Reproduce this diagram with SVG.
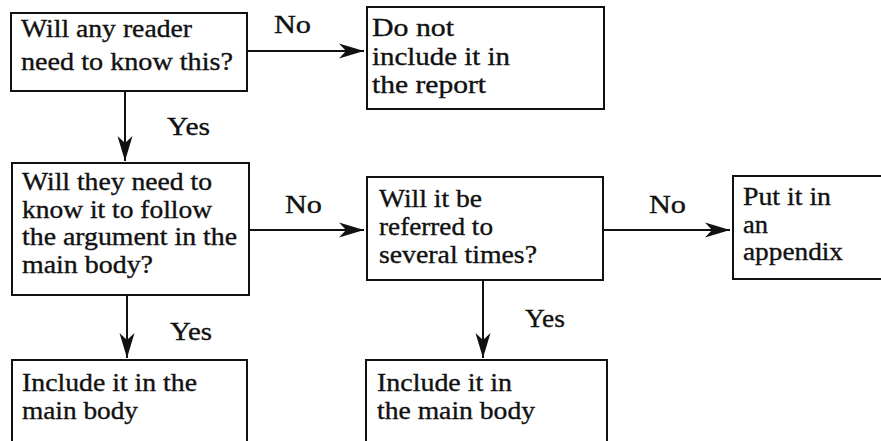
<svg xmlns="http://www.w3.org/2000/svg" width="881" height="441" viewBox="0 0 881 441">
<style>
.box{fill:#fff;stroke:#111;stroke-width:2}
text{font-family:'Liberation Serif','Times New Roman',Times,serif;font-size:25px;fill:#111;stroke:#111;stroke-width:0.35}
.c{stroke:#111;stroke-width:2;fill:none;marker-end:url(#ah)}
</style>
<defs>
<marker id="ah" markerUnits="userSpaceOnUse" viewBox="-27 -9 29 18" refX="0" refY="0" markerWidth="29" markerHeight="18" orient="auto">
<path d="M0,0 L-25,-7.5 L-18,0 L-25,7.5 Z" fill="#111"/>
</marker>
</defs>
<rect width="881" height="441" fill="#fff"/>
<g id="connectors">
<line class="c" x1="247" y1="51" x2="364" y2="51"/>
<line class="c" x1="125" y1="91" x2="125" y2="161"/>
<line class="c" x1="249" y1="230" x2="364" y2="230"/>
<line class="c" x1="603" y1="230" x2="730" y2="230"/>
<line class="c" x1="127" y1="295" x2="127" y2="358"/>
<line class="c" x1="483" y1="280" x2="483" y2="358"/>
<text x="274" y="33" textLength="37" lengthAdjust="spacingAndGlyphs">No</text>
<text x="167" y="135" textLength="43" lengthAdjust="spacingAndGlyphs">Yes</text>
<text x="285" y="213" textLength="37" lengthAdjust="spacingAndGlyphs">No</text>
<text x="649" y="213" textLength="37" lengthAdjust="spacingAndGlyphs">No</text>
<text x="170" y="340" textLength="42" lengthAdjust="spacingAndGlyphs">Yes</text>
<text x="525" y="327" textLength="40" lengthAdjust="spacingAndGlyphs">Yes</text>
</g>
<g id="q1">
<rect class="box" x="11" y="13" width="236" height="78"/>
<text x="21" y="37" textLength="171" lengthAdjust="spacingAndGlyphs">Will any reader</text>
<text x="21" y="70" textLength="212" lengthAdjust="spacingAndGlyphs">need to know this?</text>
</g>
<g id="exclude">
<rect class="box" x="367" y="7" width="237" height="102"/>
<text x="372" y="36" textLength="82" lengthAdjust="spacingAndGlyphs">Do not</text>
<text x="372" y="65" textLength="138" lengthAdjust="spacingAndGlyphs">include it in</text>
<text x="372" y="93" textLength="114" lengthAdjust="spacingAndGlyphs">the report</text>
</g>
<g id="q2">
<rect class="box" x="12" y="163" width="237" height="132"/>
<text x="22" y="190" textLength="190" lengthAdjust="spacingAndGlyphs">Will they need to</text>
<text x="22" y="218" textLength="190" lengthAdjust="spacingAndGlyphs">know it to follow</text>
<text x="22" y="245" textLength="215" lengthAdjust="spacingAndGlyphs">the argument in the</text>
<text x="22" y="273" textLength="131" lengthAdjust="spacingAndGlyphs">main body?</text>
</g>
<g id="q3">
<rect class="box" x="367" y="177" width="236" height="103"/>
<text x="379" y="207" textLength="103" lengthAdjust="spacingAndGlyphs">Will it be</text>
<text x="379" y="235" textLength="114" lengthAdjust="spacingAndGlyphs">referred to</text>
<text x="379" y="263" textLength="158" lengthAdjust="spacingAndGlyphs">several times?</text>
</g>
<g id="appendix">
<rect class="box" x="733" y="176" width="160" height="103"/>
<text x="743" y="205" textLength="88" lengthAdjust="spacingAndGlyphs">Put it in</text>
<text x="743" y="233" textLength="25" lengthAdjust="spacingAndGlyphs">an</text>
<text x="743" y="260" textLength="100" lengthAdjust="spacingAndGlyphs">appendix</text>
</g>
<g id="main1">
<rect class="box" x="12" y="360" width="235" height="100"/>
<text x="22" y="391" textLength="175" lengthAdjust="spacingAndGlyphs">Include it in the</text>
<text x="22" y="419" textLength="116" lengthAdjust="spacingAndGlyphs">main body</text>
</g>
<g id="main2">
<rect class="box" x="366" y="360" width="241" height="100"/>
<text x="377" y="391" textLength="135" lengthAdjust="spacingAndGlyphs">Include it in</text>
<text x="377" y="419" textLength="158" lengthAdjust="spacingAndGlyphs">the main body</text>
</g>
</svg>
